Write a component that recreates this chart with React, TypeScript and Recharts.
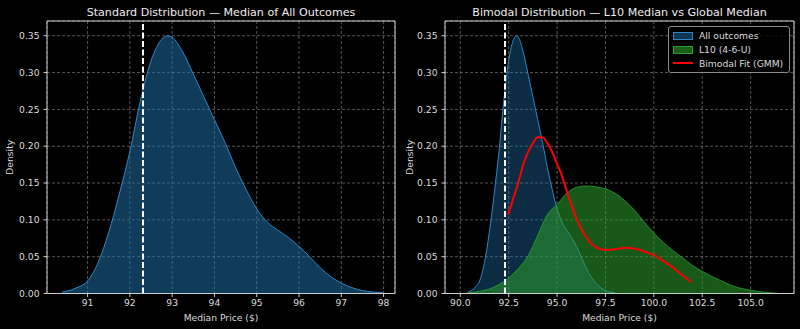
import { ComposedChart, Area, Line, XAxis, YAxis, CartesianGrid, ReferenceLine, Legend } from 'recharts'

// KDE of all simulated outcomes
const allX = [90.4, 90.5, 90.75, 91.0, 91.25, 91.5, 91.75, 92.0, 92.25, 92.5, 92.75, 92.9, 93.0, 93.25, 93.5, 93.75, 94.0, 94.25, 94.5, 94.75, 95.0, 95.25, 95.5, 95.75, 96.0, 96.25, 96.5, 96.75, 97.0, 97.25, 97.5, 97.75, 98.0]
const allDensity = [0.002, 0.003, 0.008, 0.017, 0.042, 0.083, 0.135, 0.193, 0.262, 0.316, 0.345, 0.35, 0.348, 0.328, 0.298, 0.267, 0.236, 0.205, 0.171, 0.141, 0.115, 0.097, 0.086, 0.076, 0.064, 0.05, 0.035, 0.023, 0.014, 0.008, 0.004, 0.002, 0.0008]

// L10 (4-6-U) KDE
const l10X = [90.3, 90.5, 91, 91.5, 92, 92.5, 93, 93.5, 94, 94.5, 95, 95.5, 96, 96.5, 97, 97.5, 98, 98.5, 99, 99.5, 100, 100.5, 101, 101.5, 102, 102.5, 103, 103.5, 104, 104.5, 105, 105.5, 106, 106.4]
const l10Density = [0.0003, 0.001, 0.003, 0.006, 0.012, 0.021, 0.034, 0.051, 0.079, 0.107, 0.121, 0.136, 0.144, 0.146, 0.145, 0.142, 0.136, 0.126, 0.113, 0.097, 0.082, 0.069, 0.058, 0.048, 0.038, 0.03, 0.023, 0.017, 0.011, 0.007, 0.0045, 0.0025, 0.001, 0.0003]

// two-component GMM fit
const gmmX = [92.47, 92.75, 93.0, 93.25, 93.5, 93.75, 94.0, 94.25, 94.5, 94.75, 95.0, 95.25, 95.5, 95.75, 96.0, 96.25, 96.5, 96.75, 97.0, 97.5, 98.0, 98.5, 99.0, 99.5, 100.0, 100.5, 101.0, 101.5, 101.95]
const gmmDensity = [0.107, 0.13, 0.151, 0.175, 0.192, 0.204, 0.212, 0.212, 0.204, 0.192, 0.176, 0.16, 0.139, 0.12, 0.102, 0.088, 0.077, 0.068, 0.063, 0.059, 0.06, 0.062, 0.061, 0.057, 0.052, 0.044, 0.035, 0.024, 0.015]

const globalMedian = 92.31
const leftTicks = [91, 92, 93, 94, 95, 96, 97, 98]
const rightTicks = [90, 92.5, 95, 97.5, 100, 102.5, 105]
const densityTicks = [0, 0.05, 0.1, 0.15, 0.2, 0.25, 0.3, 0.35]
const legendOrder = ['All outcomes', 'L10 (4-6-U)', 'Bimodal Fit (GMM)']

const FONT = 'DejaVu Sans, sans-serif'
const TEXT = '#dcdcdc'
const SPINE = '#cfcfcf'
const SMALL = 9.2
const tickStyle = { fill: TEXT, fontSize: SMALL, fontFamily: FONT }

const FILLS: Record<string, string> = {
  'All outcomes': 'rgba(31,119,180,0.45)',
  'L10 (4-6-U)': 'rgba(44,160,44,0.6)',
}

const leftData = allX.map((x, i) => ({ x, all: allDensity[i] }))

function buildRightData() {
  const rows = new Map<number, Record<string, number>>()
  const put = (xs: number[], ys: number[], key: string) => {
    xs.forEach((x, i) => {
      const row = rows.get(x) ?? { x }
      row[key] = ys[i]
      rows.set(x, row)
    })
  }
  put(allX, allDensity, 'all')
  put(l10X, l10Density, 'l10')
  put(gmmX, gmmDensity, 'gmm')
  return [...rows.values()].sort((a, b) => a.x - b.x)
}
const rightData = buildRightData()

function LegendBox({ payload }: any) {
  const items = [...(payload ?? [])].sort((a: any, b: any) => legendOrder.indexOf(a.value) - legendOrder.indexOf(b.value))
  return (
    <div style={{ border: '1px solid #8a8a8a', borderRadius: 3, background: 'rgba(0,0,0,0.8)', padding: '2px 4px', fontFamily: FONT, fontSize: SMALL, color: TEXT }}>
      {items.map((entry: any) => {
        const f = FILLS[entry.value]
        return (
          <div key={entry.value} style={{ display: 'flex', alignItems: 'center', height: 13.7 }}>
            {f ? (
              <span style={{ width: 18, height: 6, border: `1px solid ${entry.color}`, background: f }} />
            ) : (
              <span style={{ width: 20, height: 2, background: entry.color }} />
            )}
            <span style={{ marginLeft: 6, whiteSpace: 'nowrap' }}>{entry.value}</span>
          </div>
        )
      })}
    </div>
  )
}

function Frame({ domain, ticks, digits, title, yWidth }: { domain: number[]; ticks: number[]; digits: number; title: string; yWidth: number }) {
  return [
    <CartesianGrid key="g" stroke="#9a9a9a" strokeOpacity={0.55} strokeDasharray="3 2" />,
    <XAxis
      key="x"
      dataKey="x"
      type="number"
      domain={domain}
      ticks={ticks}
      interval={0}
      allowDataOverflow
      tickFormatter={(v: number) => v.toFixed(digits)}
      tick={tickStyle}
      tickSize={3.5}
      tickMargin={2}
      height={35.5}
      stroke={SPINE}
      tickLine={{ stroke: SPINE }}
      label={{ value: 'Median Price ($)', position: 'insideBottom', offset: 8.5, fill: TEXT, fontSize: SMALL, fontFamily: FONT }}
    />,
    <XAxis
      key="xt"
      xAxisId="top"
      dataKey="x"
      type="number"
      orientation="top"
      domain={domain}
      ticks={ticks}
      allowDataOverflow
      height={1}
      tick={false}
      tickLine={false}
      stroke={SPINE}
      label={{ value: title, position: 'top', offset: 4, fill: '#eeeeee', fontSize: 11.1, fontFamily: FONT }}
    />,
    <YAxis
      key="y"
      type="number"
      width={yWidth}
      domain={[0, 0.37]}
      ticks={densityTicks}
      interval={0}
      allowDataOverflow
      tickFormatter={(v: number) => v.toFixed(2)}
      tick={tickStyle}
      tickSize={3.5}
      tickMargin={4}
      stroke={SPINE}
      tickLine={{ stroke: SPINE }}
      label={{ value: 'Density', angle: -90, position: 'insideLeft', offset: 10, fill: TEXT, fontSize: SMALL, fontFamily: FONT, style: { textAnchor: 'middle' } }}
    />,
    <YAxis key="yr" yAxisId="right" orientation="right" domain={[0, 0.37]} ticks={densityTicks} width={1} tick={false} tickLine={false} stroke={SPINE} />,
  ]
}

export default function App() {
  return (
    <div style={{ position: 'absolute', left: 0, top: 0, width: 800, height: 329, background: '#000', display: 'flex' }}>
      <ComposedChart width={400} height={329} data={leftData} margin={{ top: 20, right: 4, bottom: 0, left: 0 }}>
        {Frame({ domain: [90.04, 98.27], ticks: leftTicks, digits: 0, title: 'Standard Distribution — Median of All Outcomes', yWidth: 47 })}
        <Area
          dataKey="all"
          type="monotone"
          stroke="#2f86c8"
          strokeWidth={1}
          fill="#1f77b4"
          fillOpacity={0.5}
          isAnimationActive={false}
        />
        <ReferenceLine x={globalMedian} stroke="#ffffff" strokeWidth={2} strokeDasharray="6 2.5" />
      </ComposedChart>
      <ComposedChart width={400} height={329} data={rightData} margin={{ top: 20, right: 5, bottom: 0, left: 0 }}>
        {Frame({ domain: [89.21, 107.24], ticks: rightTicks, digits: 1, title: 'Bimodal Distribution — L10 Median vs Global Median', yWidth: 45 })}
        <Area
          name="All outcomes"
          dataKey="all"
          type="monotone"
          connectNulls
          stroke="#2f86c8"
          strokeWidth={1}
          fill="#1f77b4"
          fillOpacity={0.37}
          legendType="rect"
          isAnimationActive={false}
        />
        <Area
          name="L10 (4-6-U)"
          dataKey="l10"
          type="monotone"
          connectNulls
          stroke="#2ca02c"
          strokeOpacity={0.85}
          strokeWidth={1}
          fill="#2ca02c"
          fillOpacity={0.55}
          legendType="rect"
          isAnimationActive={false}
        />
        <Line
          name="Bimodal Fit (GMM)"
          dataKey="gmm"
          type="monotone"
          connectNulls
          stroke="#ff0000"
          strokeWidth={2}
          dot={false}
          isAnimationActive={false}
        />
        <ReferenceLine x={globalMedian} stroke="#ffffff" strokeWidth={2} strokeDasharray="6 2.5" />
        <Legend
          layout="vertical"
          align="center"
          verticalAlign="middle"
          content={<LegendBox />}
          wrapperStyle={{ top: 26, left: 268, width: 122 }}
        />
      </ComposedChart>
    </div>
  )
}
